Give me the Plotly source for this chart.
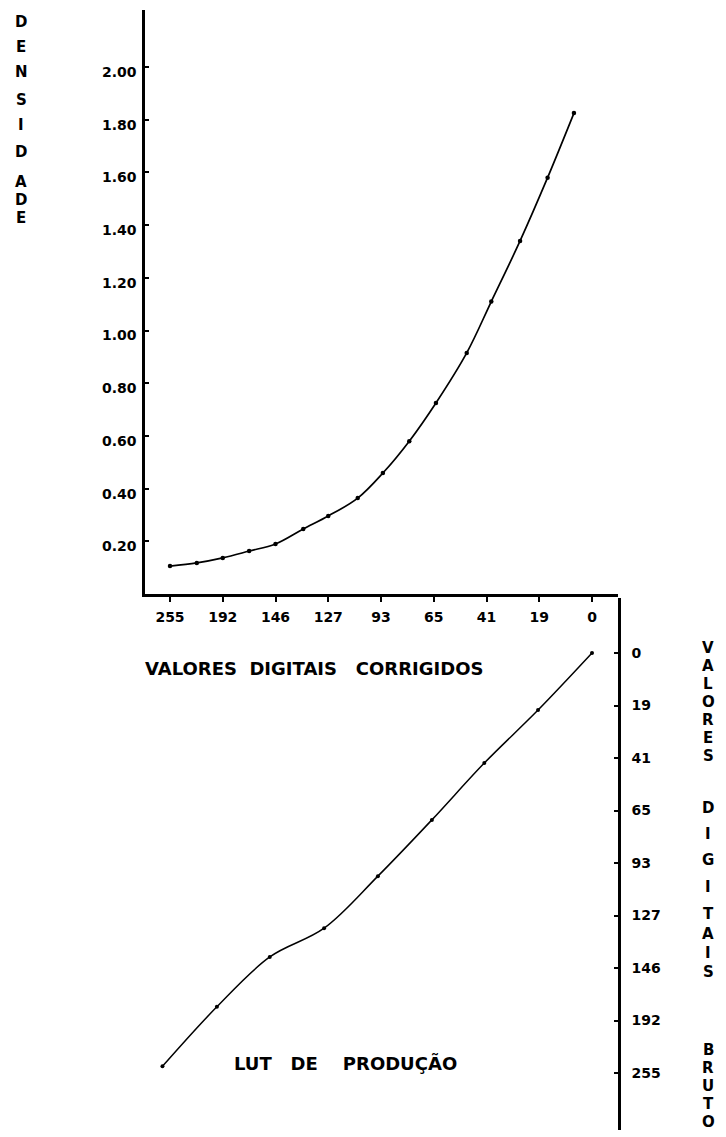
import numpy as np
import plotly.graph_objects as go

# ---------------- data ----------------
# evenly spaced (non-linear) scales used in the figure
corrected_ticks = [255, 192, 146, 127, 93, 65, 41, 19, 0]      # "valores digitais corrigidos"
raw_ticks = [0, 19, 41, 65, 93, 127, 146, 192, 255]            # "valores digitais brutos"
density_ticks = [0.20, 0.40, 0.60, 0.80, 1.00, 1.20, 1.40, 1.60, 1.80, 2.00]
density_ticktext = ["0.20", "0.40", "0.60", "0.80", "1.00", "1.20", "1.40", "1.60", "1.80", "2.00"]

# top panel: density vs corrected digital value
density_x = [255, 223, 192, 169, 146, 136, 127, 108, 92, 78, 64, 50, 39, 27, 16, 6.5]
density_y = [0.106, 0.118, 0.137, 0.163, 0.190, 0.247, 0.296, 0.364, 0.459,
             0.580, 0.725, 0.915, 1.110, 1.340, 1.580, 1.825]

# bottom panel: production LUT (corrected -> raw)
lut_corrected = [264, 199, 151, 128.5, 95, 66, 42, 19.5, 0]
lut_raw = [247, 180, 142, 131.6, 101.5, 70, 43.3, 20.9, 0]


def scale_pos(values, ticks):
    """Position on an evenly spaced tick scale (piecewise linear, extrapolated)."""
    t = np.asarray(ticks, dtype=float)
    idx = np.arange(len(t), dtype=float)
    if t[0] > t[-1]:
        t = t[::-1]
        idx = idx[::-1]
    out = []
    for v in np.asarray(values, dtype=float):
        if v < t[0]:
            slope = (idx[1] - idx[0]) / (t[1] - t[0])
            out.append(idx[0] + (v - t[0]) * slope)
        elif v > t[-1]:
            slope = (idx[-1] - idx[-2]) / (t[-1] - t[-2])
            out.append(idx[-1] + (v - t[-1]) * slope)
        else:
            out.append(float(np.interp(v, t, idx)))
    return out


W, H = 726, 1137
FONT = "DejaVu Sans"

fig = go.Figure()

fig.add_trace(go.Scatter(
    x=scale_pos(density_x, corrected_ticks), y=density_y,
    mode="lines+markers", line=dict(color="black", width=1.7, shape="spline", smoothing=1.0),
    marker=dict(color="black", size=4.5), xaxis="x", yaxis="y", hoverinfo="skip"))

fig.add_trace(go.Scatter(
    x=scale_pos(lut_corrected, corrected_ticks), y=scale_pos(lut_raw, raw_ticks),
    mode="lines+markers", line=dict(color="black", width=1.5, shape="spline", smoothing=1.0),
    marker=dict(color="black", size=4), xaxis="x2", yaxis="y2", hoverinfo="skip"))

# pixel geometry helpers
def px_x(p):
    return p / W

def px_y(p):
    return (H - p) / H

x_left, x_right = 145, 618
x_tick0, x_step = 170, 52.75
xrange = [(x_left - x_tick0) / x_step, (x_right - x_tick0) / x_step]

top_axis_y, top_y_top, dens_px = 594, 10, 263.5
bot_top, bot_bottom, raw_tick0, raw_step = 598, 1130, 653, 52.5

tickfont = dict(family=FONT, size=14, color="black", weight="bold")

fig.update_layout(
    width=W, height=H,
    margin=dict(l=0, r=0, t=0, b=0),
    paper_bgcolor="white", plot_bgcolor="white",
    showlegend=False,
    xaxis=dict(domain=[px_x(x_left), px_x(x_right)], range=xrange, anchor="y",
               tickmode="array", tickvals=list(range(len(corrected_ticks))),
               ticktext=[str(v) for v in corrected_ticks],
               ticks="outside", ticklen=5, tickwidth=2, tickcolor="black",
               showline=True, linewidth=2.5, linecolor="black",
               showgrid=False, zeroline=False, tickfont=tickfont, ticklabelstandoff=3),
    yaxis=dict(domain=[px_y(top_axis_y), px_y(top_y_top)],
               range=[0, (top_axis_y - top_y_top) / dens_px], anchor="x",
               tickmode="array", tickvals=density_ticks, ticktext=density_ticktext,
               ticks="inside", ticklen=4, tickwidth=2, tickcolor="black",
               showline=True, linewidth=2.5, linecolor="black",
               showgrid=False, zeroline=False, tickfont=tickfont,
               ticklabelshift=5, ticklabelstandoff=3),
    xaxis2=dict(domain=[px_x(x_left), px_x(x_right)], range=xrange, anchor="y2",
                visible=False, showgrid=False, zeroline=False),
    yaxis2=dict(domain=[px_y(bot_bottom), px_y(bot_top)],
                range=[(bot_bottom - raw_tick0) / raw_step, (bot_top - raw_tick0) / raw_step],
                anchor="x2", side="right",
                tickmode="array", tickvals=list(range(len(raw_ticks))),
                ticktext=[str(v) for v in raw_ticks],
                ticks="inside", ticklen=4, tickwidth=2, tickcolor="black",
                showline=True, linewidth=2.5, linecolor="black",
                showgrid=False, zeroline=False, tickfont=tickfont, ticklabelstandoff=8),
)

NB = "\u00a0"
title_font = dict(family=FONT, size=18, color="black", weight="bold")
letter_font = dict(family=FONT, size=15, color="black", weight="bold")
annotations = [
    dict(text=f"VALORES{NB}{NB}DIGITAIS{NB}{NB}{NB}CORRIGIDOS", x=px_x(143), y=px_y(668),
         xanchor="left", yanchor="middle", font=title_font),
    dict(text=f"LUT{NB}{NB}{NB}DE{NB}{NB}{NB}{NB}PRODUÇÃO", x=px_x(232), y=px_y(1063),
         xanchor="left", yanchor="middle", font=title_font),
]

left_letters = list("DENSIDADE")
left_y = [22, 47, 72, 100, 125, 152, 182, 200, 218]
for ch, yy in zip(left_letters, left_y):
    annotations.append(dict(text=ch, x=px_x(21), y=px_y(yy), xanchor="center",
                            yanchor="middle", font=letter_font))

right_letters = list("VALORESDIGITAISBRUTO")
right_y = [648, 666, 684, 702, 720, 738, 756,
           808, 834, 860, 887, 914, 934, 953, 972,
           1050, 1068, 1086, 1104, 1122]
for ch, yy in zip(right_letters, right_y):
    annotations.append(dict(text=ch, x=px_x(708), y=px_y(yy), xanchor="center",
                            yanchor="middle", font=letter_font))

for a in annotations:
    a.update(xref="paper", yref="paper", showarrow=False)
fig.update_layout(annotations=annotations)

fig.write_html("out.html", config={"displayModeBar": False},
               post_script="document.body.style.margin='0';document.body.style.overflow='hidden';")
